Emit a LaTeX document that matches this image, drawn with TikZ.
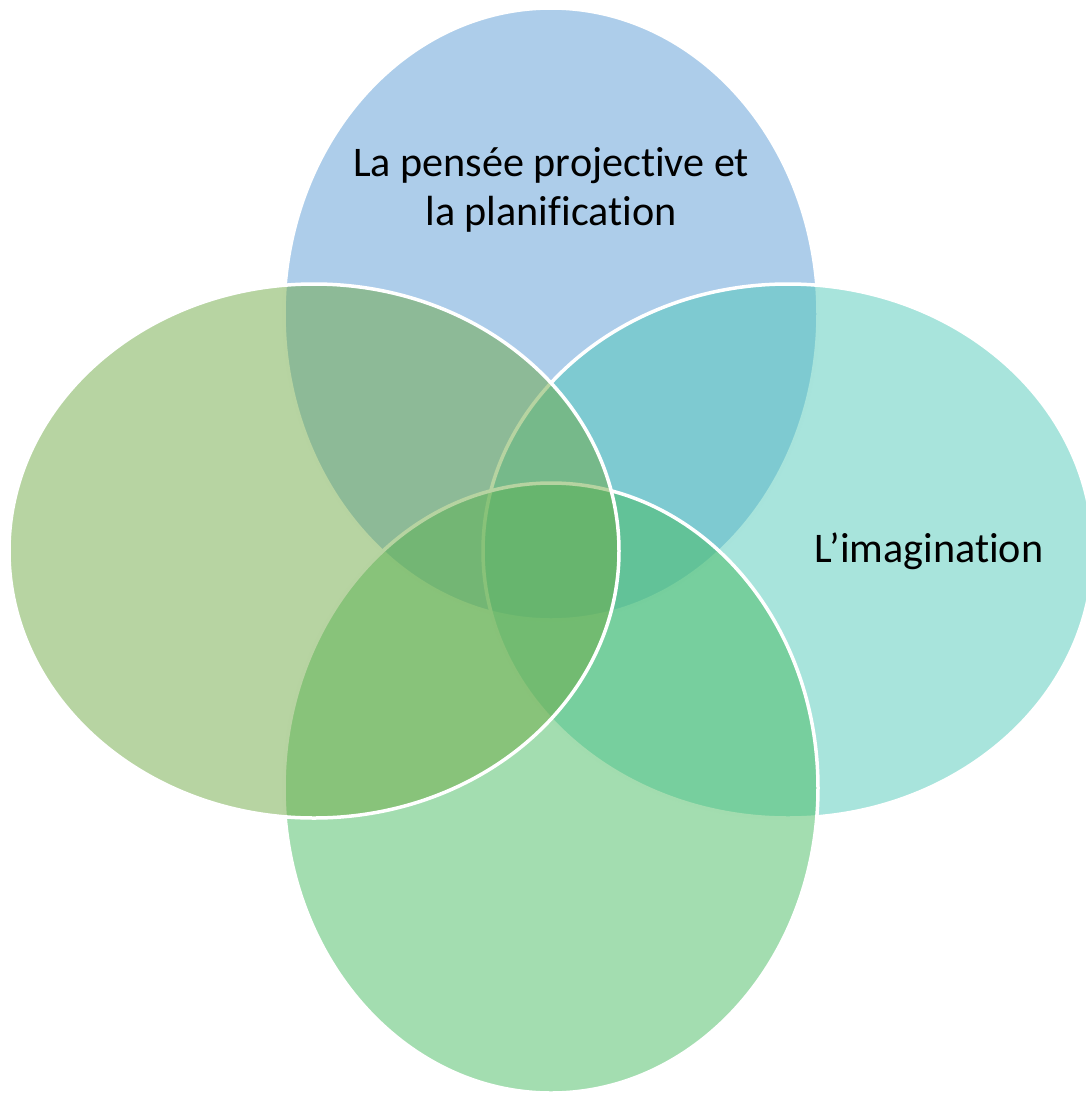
\documentclass[tikz,border=0pt]{standalone}
\usepackage{fontspec}
\setmainfont{Carlito}[Ligatures={NoCommon,NoContextual}]
\usepackage{xcolor}
\definecolor{topblue}{RGB}{91,155,213}
\definecolor{rightteal}{RGB}{81,201,185}
\definecolor{bottomgreen}{RGB}{71,187,97}
\definecolor{leftgreen}{RGB}{111,169,69}
\tikzset{
  petal/.style={fill opacity=0.5, draw=white, line width=0.07cm},
  petaltext/.style={text=black, align=center, font=\fontsize{24}{27.5}\selectfont}
}

\begin{document}
\begin{tikzpicture}[x=0.02cm,y=-0.02cm]
            \useasboundingbox (0,0) rectangle (1086,1093);
            \clip (0,0) rectangle (1086,1093);
            % the four overlapping ellipses
            \draw[petal,fill=topblue] (551,314) ellipse [x radius=267,y radius=306];
            \draw[petal,fill=rightteal] (788,551) ellipse [x radius=305,y radius=267];
            \draw[petal,fill=bottomgreen] (551,788) ellipse [x radius=267,y radius=305];
            \draw[petal,fill=leftgreen] (314,551) ellipse [x radius=305,y radius=267];
            % labels
            \node[petaltext] (topText) at (551,190) {La pensée projective et\\la planification};
            \node[petaltext] (rightText) at (929,551) {L’imagination};
        \end{tikzpicture}
\end{document}
